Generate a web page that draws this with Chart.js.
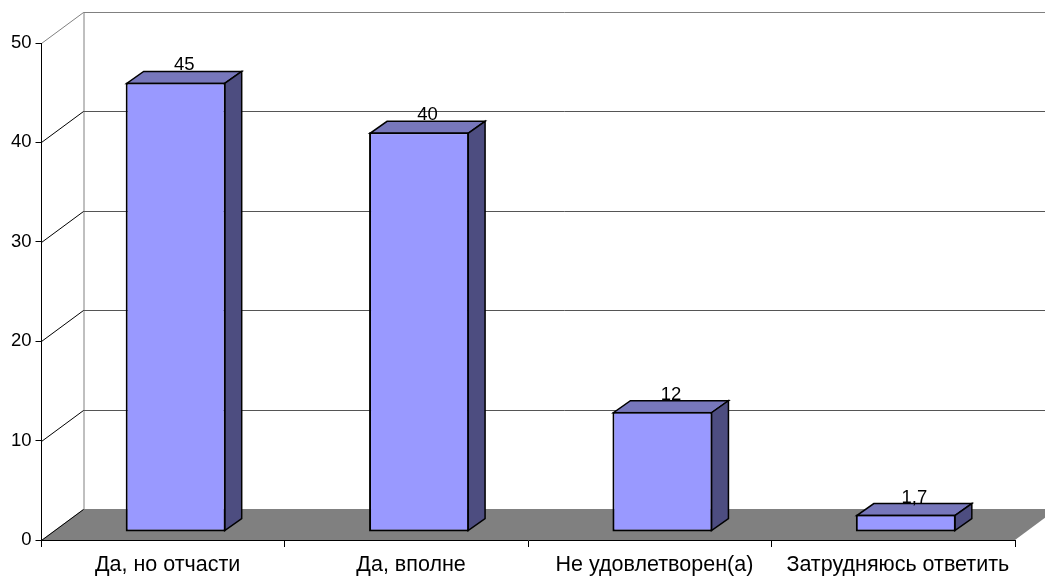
<!DOCTYPE html>
<html lang="ru">
<head>
<meta charset="utf-8">
<title>Chart</title>
<script src="https://cdn.jsdelivr.net/npm/chart.js@4"></script>
<style>
    html, body { margin: 0; background: #fff; }
    canvas { display: block; }
</style>
</head>
<body>
<canvas id="barChart" width="1045" height="576"></canvas>
<script>
const categories = ["Да, но отчасти", "Да, вполне", "Не удовлетворен(а)", "Затрудняюсь ответить"];
const values = [45, 40, 12, 1.7];
const yTicks = [0, 10, 20, 30, 40, 50];

// --- 3D look: offsets in pixels ---
const WALL = { dx: 42, dy: -31 };   // back wall against the front plane
const BAR_SHIFT_X = 12.5;           // bar front against the front plane (y shift comes from yBar)
const BAR_DEPTH = { dx: 17, dy: -12 };

function poly(ctx, pts, fill, stroke, width) {
    ctx.beginPath();
    pts.forEach((p, i) => i ? ctx.lineTo(p[0], p[1]) : ctx.moveTo(p[0], p[1]));
    ctx.closePath();
    if (fill) { ctx.fillStyle = fill; ctx.fill(); }
    if (stroke) { ctx.strokeStyle = stroke; ctx.lineWidth = width; ctx.stroke(); }
}

function segment(ctx, x1, y1, x2, y2, color) {
    ctx.beginPath();
    ctx.moveTo(x1, y1);
    ctx.lineTo(x2, y2);
    ctx.strokeStyle = color;
    ctx.lineWidth = 1;
    ctx.stroke();
}

// --- Walls and floor, behind the axes ---
const wallsPlugin = {
    id: "walls",
    beforeDraw(chart) {
        const { ctx, chartArea, scales } = chart;
        const { left, right } = chartArea;
        const y0 = scales.y.getPixelForValue(0);
        ctx.save();
        poly(ctx, [
            [left, y0], [right, y0],
            [right + WALL.dx, y0 + WALL.dy], [left + WALL.dx, y0 + WALL.dy]
        ], "#808080");

        const topY = scales.y.getPixelForValue(50);
        segment(ctx, left + WALL.dx + 0.5, topY + WALL.dy, left + WALL.dx + 0.5, y0 + WALL.dy, "#808080");
        yTicks.forEach(v => {
            const y = Math.round(scales.y.getPixelForValue(v)) + 0.5;
            const by = y + WALL.dy;
            if (v > 0) segment(ctx, left + WALL.dx, by, right + WALL.dx, by, v === 50 ? "#808080" : "#555555");
            segment(ctx, left, y, left + WALL.dx, by, v === 50 ? "#808080" : "#000000");
        });
        ctx.restore();
    },
    // bars sit inside the floor, so shift the drawing off the front plane
    beforeDatasetsDraw(chart) {
        const { ctx } = chart;
        ctx.save();
        ctx.translate(BAR_SHIFT_X, 0);
        chart.getDatasetMeta(0).data.forEach(bar => {
            const l = bar.x - bar.width / 2 + 1;
            const r = bar.x + bar.width / 2 - 1;
            const t = bar.y + 1;
            const b = bar.base - 1;
            poly(ctx, [[l, t], [r, t], [r + BAR_DEPTH.dx, t + BAR_DEPTH.dy], [l + BAR_DEPTH.dx, t + BAR_DEPTH.dy]], "#7777BB", "#000", 1.5);
            poly(ctx, [[r, t], [r + BAR_DEPTH.dx, t + BAR_DEPTH.dy], [r + BAR_DEPTH.dx, b + BAR_DEPTH.dy], [r, b]], "#4D4D80", "#000", 1.5);
        });
    },
    afterDatasetsDraw(chart) {
        const { ctx } = chart;
        ctx.restore();
        ctx.save();
        ctx.fillStyle = "#000";
        ctx.font = "18.5px 'Liberation Sans'";
        ctx.textAlign = "center";
        ctx.textBaseline = "alphabetic";
        chart.getDatasetMeta(0).data.forEach((bar, i) => {
            const label = String(values[i]).replace(".", ",");
            ctx.fillText(label, bar.x + BAR_SHIFT_X + BAR_DEPTH.dx / 2, bar.y + BAR_DEPTH.dy);
        });
        ctx.restore();
    }
};

new Chart(document.getElementById("barChart").getContext("2d"), {
    type: "bar",
    data: {
        labels: categories,
        datasets: [{
            data: values,
            yAxisID: "yBar",
            backgroundColor: "#9999FF",
            borderColor: "#000",
            borderWidth: 2,
            borderSkipped: false,
            barPercentage: 1,
            categoryPercentage: 0.411,
            clip: false
        }]
    },
    options: {
        responsive: false,
        animation: false,
        events: [],
        layout: { padding: { top: 43, right: 30, left: 0, bottom: 0 } },
        plugins: { legend: { display: false }, tooltip: { enabled: false } },
        scales: {
            x: {
                afterFit: s => { s.height = 36; },
                border: { color: "#000", width: 1 },
                grid: { drawOnChartArea: false, color: "#000", tickLength: 7 },
                ticks: {
                    color: "#000",
                    maxRotation: 0,
                    padding: 5,
                    labelOffset: 4.5,
                    font: { family: "Liberation Sans", size: 21.5 }
                }
            },
            y: {
                min: 0,
                max: 50,
                afterFit: s => { s.width = 41.5; },
                border: { color: "#000", width: 1 },
                grid: { drawOnChartArea: false, color: "#000", tickLength: 6 },
                ticks: {
                    stepSize: 10,
                    color: "#000",
                    padding: 4,
                    font: { family: "Liberation Sans", size: 18.5 }
                }
            },
            // hidden scale for the bars: their plane sits a little above the axis plane
            yBar: {
                display: false,
                min: -0.85,
                max: 48.95
            }
        }
    },
    plugins: [wallsPlugin]
});
</script>
</body>
</html>
